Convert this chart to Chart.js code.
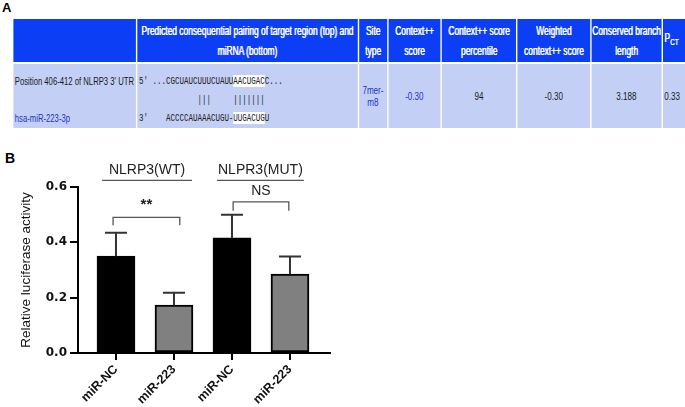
<!DOCTYPE html>
<html>
<head>
<meta charset="utf-8">
<script src="https://cdn.jsdelivr.net/npm/chart.js@4.4.0/dist/chart.umd.min.js"></script>
<style>
  body { margin: 0; width: 685px; height: 407px; background: #fff; position: relative; overflow: hidden; font-family: "Liberation Sans", Arial, sans-serif; }
  .panel { position: absolute; font-weight: bold; color: #000; }
  #tbl { position: absolute; left: 12px; top: 17px; transform: scaleX(0.7); transform-origin: 0 0; }
  #tbl table { border-collapse: separate; border-spacing: 2.86px 2px; table-layout: fixed; width: 975px; }
  #tbl th, #tbl td { padding: 0; white-space: nowrap; overflow: hidden; }
  #tbl th { background: #0b3ef5; color: #fff; font-weight: normal; font-size: 12px; line-height: 20px; height: 43px; text-align: center; text-shadow: 0.8px 0 0 #fff; }
  #tbl tr.b { height: 64px; }
  #tbl td { background: #c4cff5; color: #1a1a1a; font-size: 11.5px; text-align: center; vertical-align: middle; }
  #tbl td.top { vertical-align: top; text-align: left; padding-top: 8px; line-height: 18.5px; }
  #tbl td.first { padding-left: 2px; font-size: 11px; }
  #tbl td.seq { padding-left: 3px; font-family: "Liberation Mono", monospace; font-size: 10.7px; white-space: pre; color: #222; }
  .hl { background: #fff; }
  .blue { color: #2233c8 !important; }
  #chartBox { position: absolute; left: 0; top: 140px; }
</style>
</head>
<body>
<div class="panel" style="left:2px;top:0px;font-size:13px;">A</div>
<div class="panel" style="left:5px;top:150px;font-size:14px;">B</div>

<div id="tbl">
<table>
  <colgroup>
    <col style="width:174px"><col style="width:314px"><col style="width:40px"><col style="width:74px">
    <col style="width:106px"><col style="width:103px"><col style="width:100px"><col style="width:43px">
  </colgroup>
  <tr>
    <th></th>
    <th>Predicted consequential pairing of target region (top) and<br>miRNA (bottom)</th>
    <th>Site<br>type</th>
    <th>Context++<br>score</th>
    <th>Context++ score<br>percentile</th>
    <th>Weighted<br>context++ score</th>
    <th>Conserved branch<br>length</th>
    <th style="text-align:left;padding-left:2px;">P<sub style="font-size:9px;">CT</sub></th>
  </tr>
  <tr class="b">
    <td class="top first">Position 406-412 of NLRP3 3' UTR<br>&nbsp;<br><span class="blue">hsa-miR-223-3p</span></td>
    <td class="top seq">5' ...CGCUAUCUUUCUAUU<span class="hl">AACUGAC</span>C...
             |||     |||||||
3'    ACCCCAUAAACUGU-<span class="hl">UUGACUG</span>U</td>
    <td class="blue">7mer-<br>m8</td>
    <td class="blue">-0.30</td>
    <td>94</td>
    <td>-0.30</td>
    <td>3.188</td>
    <td style="text-align:left;padding-left:2px;">0.33</td>
  </tr>
</table>
</div>

<div id="chartBox"><canvas id="chart" width="400" height="267"></canvas></div>

<script>
const categories = ['miR-NC', 'miR-223', 'miR-NC', 'miR-223'];
const values = [0.35, 0.173, 0.416, 0.285];
const errors = [0.085, 0.045, 0.084, 0.064];
const barColors = ['#000000', '#808080', '#000000', '#808080'];
const yTicks = [0, 0.2, 0.4, 0.6];
const groupNames = ['NLRP3(WT)', 'NLPR3(MUT)'];
const sigLabels = ['**', 'NS'];

// error bars (upper half only, like the prism plot)
const errorBars = {
  id: 'errorBars',
  afterDatasetsDraw(chart) {
    const { ctx, scales: { x, y } } = chart;
    ctx.save();
    ctx.strokeStyle = '#333';
    ctx.lineWidth = 2;
    values.forEach((v, i) => {
      const px = x.getPixelForValue(i);
      const base = y.getPixelForValue(v);
      const top = y.getPixelForValue(v + errors[i]);
      ctx.beginPath();
      ctx.moveTo(px, base);
      ctx.lineTo(px, top);
      ctx.moveTo(px - 11, top);
      ctx.lineTo(px + 11, top);
      ctx.stroke();
    });
    ctx.restore();
  }
};

// group headers and significance brackets
const annotations = {
  id: 'annotations',
  afterDraw(chart) {
    const { ctx, scales: { x, y } } = chart;
    const groupSpan = [[-0.24, 1.31], [1.74, 3.24]];
    const bracket = [[-0.05, 1.1, 0.49, 0.462], [2.02, 2.98, 0.546, 0.514]];
    const labelY = [0.534, 0.585];
    ctx.save();
    ctx.fillStyle = '#222';
    ctx.strokeStyle = '#555';
    ctx.textAlign = 'center';
    ctx.textBaseline = 'middle';

    groupNames.forEach((name, g) => {
      const x0 = x.getPixelForValue(groupSpan[g][0]);
      const x1 = x.getPixelForValue(groupSpan[g][1]);
      const ly = y.getPixelForValue(0.624);
      ctx.lineWidth = 1.4;
      ctx.beginPath();
      ctx.moveTo(x0, ly);
      ctx.lineTo(x1, ly);
      ctx.stroke();
      ctx.font = '14px "Liberation Sans", Arial, sans-serif';
      ctx.fillText(name, (x0 + x1) / 2, y.getPixelForValue(0.66));
    });

    sigLabels.forEach((lab, s) => {
      const [a, b, top, bottom] = bracket[s];
      const x0 = x.getPixelForValue(a);
      const x1 = x.getPixelForValue(b);
      const yt = y.getPixelForValue(top);
      const yb = y.getPixelForValue(bottom);
      ctx.lineWidth = 1.3;
      ctx.beginPath();
      ctx.moveTo(x0, yb);
      ctx.lineTo(x0, yt);
      ctx.lineTo(x1, yt);
      ctx.lineTo(x1, yb);
      ctx.stroke();
      ctx.font = s === 0 ? 'bold 15px "Liberation Sans", Arial, sans-serif' : '14px "Liberation Sans", Arial, sans-serif';
      ctx.fillText(lab, (x0 + x1) / 2, y.getPixelForValue(labelY[s]));
    });
    ctx.restore();
  }
};

const chart = document.getElementById('chart');

new Chart(chart, {
  type: 'bar',
  data: {
    datasets: [{
      data: values.map((v, i) => ({ x: i, y: v })),
      backgroundColor: barColors,
      borderColor: '#000',
      borderWidth: 2,
      borderSkipped: false,
      barThickness: 38
    }]
  },
  options: {
    responsive: false,
    animation: false,
    layout: { padding: { top: 47, right: 70, left: 0, bottom: 0 } },
    plugins: { legend: { display: false }, tooltip: { enabled: false } },
    scales: {
      x: {
        type: 'linear',
        offset: false,
        min: -0.655,
        max: 3.69,
        afterBuildTicks: (axis) => { axis.ticks = categories.map((c, i) => ({ value: i })); },
        afterFit: (axis) => {
          axis.height = 54;
          axis.paddingLeft = 0;
          axis.paddingRight = 0;
        },
        ticks: {
          autoSkip: false,
          minRotation: 45,
          maxRotation: 45,
          padding: 2,
          color: '#111',
          font: { family: '"Liberation Sans", Arial, sans-serif', size: 12.5, weight: 'bold' },
          callback: (v) => categories[v]
        },
        grid: { offset: false, drawOnChartArea: false, drawTicks: true, tickLength: 7, color: '#000', lineWidth: 2 },
        border: { display: true, color: '#000', width: 2 }
      },
      y: {
        min: 0,
        max: 0.6,
        afterBuildTicks: (axis) => { axis.ticks = yTicks.map(v => ({ value: v })); },
        afterFit: (axis) => {
          axis.width = 78;
          axis.paddingTop = 0;
          axis.paddingBottom = 0;
        },
        ticks: {
          padding: 3,
          color: '#111',
          font: { family: '"DejaVu Sans", sans-serif', size: 12, weight: 'bold' },
          callback: (v) => v.toFixed(1)
        },
        grid: { drawOnChartArea: false, drawTicks: true, tickLength: 8, color: '#000', lineWidth: 2 },
        border: { display: true, color: '#000', width: 2 },
        title: {
          display: true,
          text: 'Relative luciferase activity',
          color: '#111',
          padding: { top: 18, bottom: 0 },
          font: { family: '"Liberation Sans", Arial, sans-serif', size: 13.5 }
        }
      }
    }
  },
  plugins: [errorBars, annotations]
});
</script>
</body>
</html>
